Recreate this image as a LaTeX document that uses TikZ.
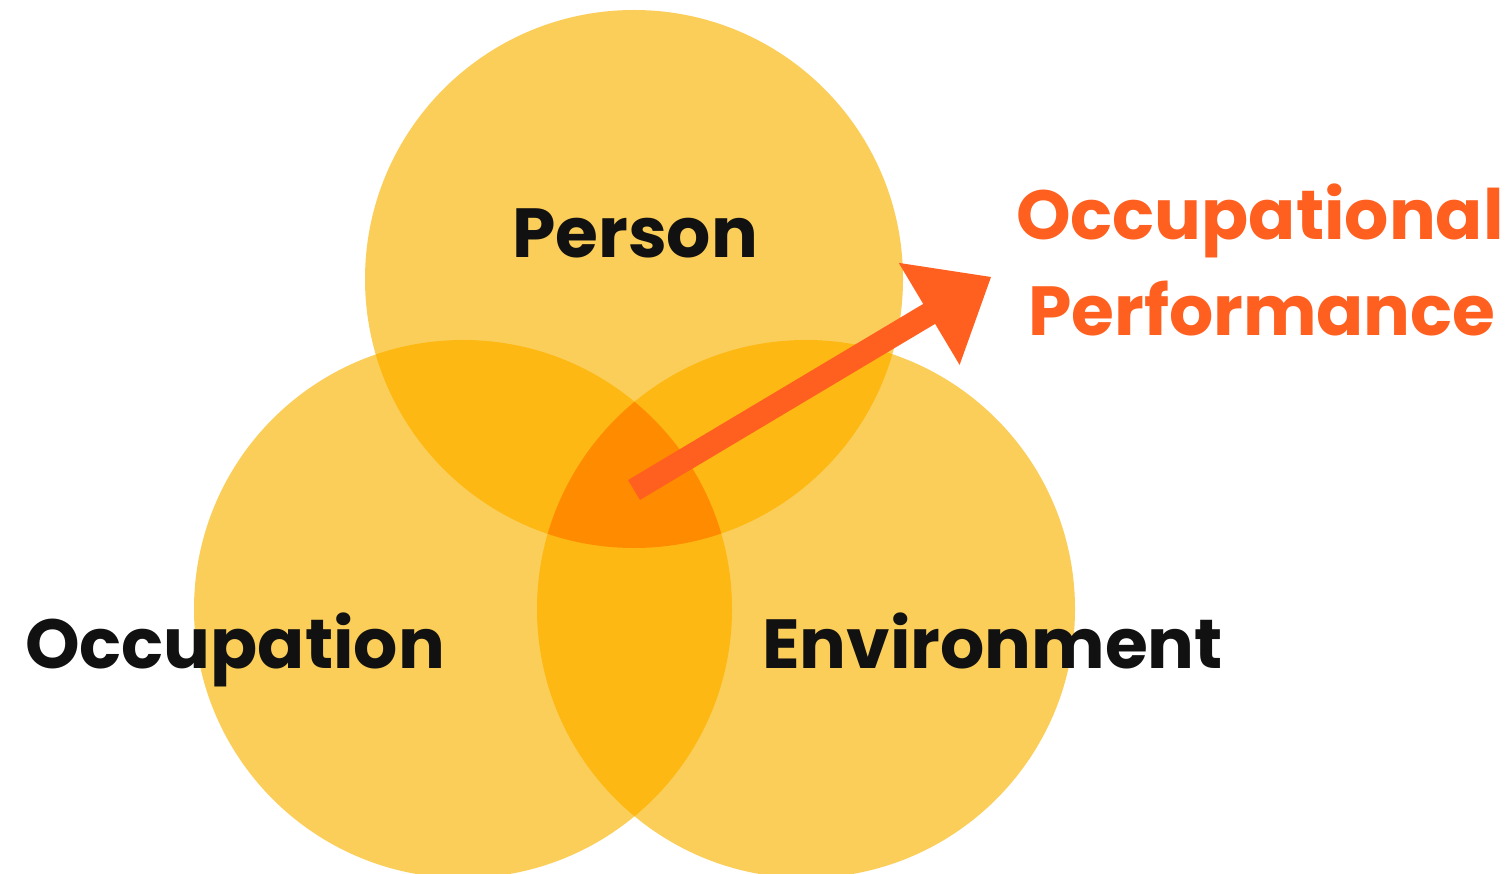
\documentclass[tikz,border=0pt]{standalone}
\usepackage{fontspec}
\setmainfont{Poppins}
\usetikzlibrary{calc}
\definecolor{cone}{HTML}{FBCE5A}
\definecolor{ctwo}{HTML}{FDB813}
\definecolor{cthree}{HTML}{FF8C00}
\definecolor{arrowc}{HTML}{FF5F1F}
\definecolor{labelc}{HTML}{111111}
\tikzset{
  lbl/.style={anchor=base west, inner sep=0pt, font=\fontsize{69.5}{78}\selectfont\bfseries, text=labelc},
  olbl/.style={lbl, text=arrowc},
}
\begin{document}
\begin{tikzpicture}[x=1pt,y=-1pt]
\useasboundingbox (0,0) rectangle (1506,874);
\clip (0,0) rectangle (1506,874);
\def\R{269}
\coordinate (cp) at (634,279);
\coordinate (co) at (463,609);
\coordinate (ce) at (806,609);
% single regions
\fill[cone] (cp) circle[radius=\R];
\fill[cone] (co) circle[radius=\R];
\fill[cone] (ce) circle[radius=\R];
% double overlaps
\begin{scope}
  \clip (cp) circle[radius=\R];
  \fill[ctwo] (co) circle[radius=\R];
  \fill[ctwo] (ce) circle[radius=\R];
\end{scope}
\begin{scope}
  \clip (co) circle[radius=\R];
  \fill[ctwo] (ce) circle[radius=\R];
\end{scope}
% triple overlap
\begin{scope}
  \clip (cp) circle[radius=\R];
  \clip (co) circle[radius=\R];
  \fill[cthree] (ce) circle[radius=\R];
\end{scope}
% arrow
\coordinate (tail) at (634,490);
\coordinate (tip) at (991,277);
\coordinate (hb) at ($(tip)!72pt!(tail)$);
\fill[arrowc] ($(tail)!11.6pt!90:(tip)$) -- ($(hb)!11.6pt!-90:(tail)$) -- ($(hb)!59.4pt!-90:(tail)$) -- (tip)
  -- ($(hb)!59.4pt!90:(tail)$) -- ($(hb)!11.6pt!90:(tail)$) -- ($(tail)!11.6pt!-90:(tip)$) -- cycle;
% labels
\node[lbl] (person) at (512,258) {Person};
\node[lbl] (occ) at (25,668) {Occupation};
\node[lbl] (env) at (762,668) {Environment};
\node[olbl] (op1) at (1016,240) {Occupational};
\node[olbl] (op2) at (1028,335) {Performance};
\end{tikzpicture}
\end{document}
